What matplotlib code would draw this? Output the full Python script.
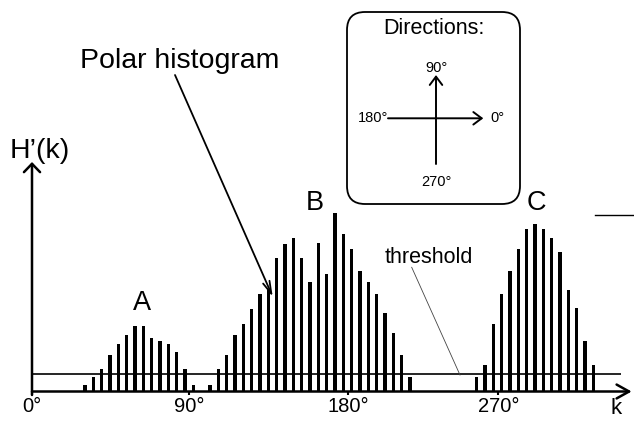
import matplotlib
matplotlib.use('Agg')
import matplotlib.pyplot as plt
from matplotlib.patches import FancyBboxPatch, FancyArrowPatch
from matplotlib.transforms import Affine2D
from matplotlib.lines import Line2D

plt.rcParams['font.family'] = ['Liberation Sans', 'DejaVu Sans']

# ---------------- data ----------------
# sector index k (one bar per sector) and smoothed polar obstacle density H'(k)
sector_k = list(range(62))
h_values = [6.5, 15, 23, 37, 48, 56.5, 65.5, 65.5, 53.5, 51, 48, 40, 23, 6.5, 0,
            6.5, 23, 37, 56.5, 68, 82.5, 98, 103, 134, 148, 154, 134, 110, 149, 118,
            179, 157.5, 142.5, 121, 110, 98, 79, 59, 37, 15,
            0, 0, 0, 0, 0, 0, 0,
            15, 26.5, 68, 98, 121, 142.5, 162.5, 168, 162.5, 154, 140, 101.5, 84, 50.5, 26.5]
threshold = 17.2
tick_k = [-6.36, 12.52, 31.6, 49.6]
tick_labels = ['0°', '90°', '180°', '270°']
peak_labels = ['A', 'B', 'C']

W, H, DPI = 634, 423, 100
fig = plt.figure(figsize=(W / DPI, H / DPI), dpi=DPI)
ax = fig.add_axes([0, 0, 1, 1])
ax.set_xlim(-10.2, 65.88)
ax.set_ylim(-31.5, 391.5)

# pixel transform (origin top-left) for annotations
T = Affine2D().scale(1 / DPI, -1 / DPI).translate(0, H / DPI) + fig.dpi_scale_trans

# bars
ax.bar(sector_k, h_values, width=0.37, color='black', bottom=0, zorder=3)

# threshold line
ax.hlines(threshold, tick_k[0], 64.3, color='black', lw=1.2, zorder=2)

# axes with arrows
k_end = 65.6
ax.annotate('', xy=(k_end, 0), xytext=(tick_k[0], 0),
            arrowprops=dict(arrowstyle='->,head_length=0.9,head_width=0.5', lw=1.8,
                            color='black', shrinkA=0, shrinkB=0, mutation_scale=10), zorder=4)
ax.annotate('', xy=(tick_k[0], 229.5), xytext=(tick_k[0], -3.5),
            arrowprops=dict(arrowstyle='->,head_length=0.6,head_width=0.58', lw=1.8,
                            color='black', shrinkA=0, shrinkB=0, mutation_scale=10), zorder=4)

# ticks
for s in ['top', 'right', 'left']:
    ax.spines[s].set_visible(False)
ax.spines['bottom'].set_position(('data', 0))
ax.spines['bottom'].set_visible(False)
ax.set_yticks([])
ax.set_xticks(tick_k, tick_labels)
ax.tick_params(axis='x', direction='out', length=2.5, width=1.5, labelsize=14.5, pad=1.5)

# peak labels
peak_pos = [(142, 303), (314.5, 203), (536.5, 202.5)]
for lab, (px, py) in zip(peak_labels, peak_pos):
    fig.text(px, py, lab, transform=T, ha='center', va='center', fontsize=19.5)

# axis labels
fig.text(10, 151, 'H’(k)', transform=T, ha='left', va='center', fontsize=20.5)
fig.text(616, 408, 'k', transform=T, ha='center', va='center', fontsize=16)

# Polar histogram annotation
fig.text(80, 68.3, 'Polar histogram', transform=T, ha='left', va='baseline', fontsize=20.5)
fig.add_artist(FancyArrowPatch((175, 75), (272.7, 296.7), transform=T,
                               arrowstyle='->,head_length=0.9,head_width=0.25',
                               mutation_scale=10, lw=1.3, color='black', shrinkA=0, shrinkB=0))

# threshold annotation
fig.text(385, 263.3, 'threshold', transform=T, ha='left', va='baseline', fontsize=15.5)
fig.add_artist(Line2D([411.7, 460], [267.3, 375], transform=T, lw=0.6, color='#444444'))

# short line top right
fig.add_artist(Line2D([595, 634], [215, 215], transform=T, lw=1.0, color='black'))

# Directions box
box = FancyBboxPatch((347, 12), 173, 192, boxstyle='round,pad=0,rounding_size=18',
                     transform=T, fill=False, lw=1.3, edgecolor='black')
fig.add_artist(box)
fig.text(433.5, 28, 'Directions:', transform=T, ha='center', va='center', fontsize=15.5)
fig.add_artist(FancyArrowPatch((436, 164), (436, 75), transform=T,
                               arrowstyle='->,head_length=0.6,head_width=0.45',
                               mutation_scale=10, lw=1.4, color='black', shrinkA=0, shrinkB=0))
fig.add_artist(FancyArrowPatch((388, 118.3), (483.3, 118.3), transform=T,
                               arrowstyle='->,head_length=0.6,head_width=0.45',
                               mutation_scale=10, lw=1.4, color='black', shrinkA=0, shrinkB=0))
fig.text(436.7, 67.5, '90°', transform=T, ha='center', va='center', fontsize=10.5)
fig.text(388, 118, '180°', transform=T, ha='right', va='center', fontsize=10.5)
fig.text(490, 118, '0°', transform=T, ha='left', va='center', fontsize=10.5)
fig.text(436, 182, '270°', transform=T, ha='center', va='center', fontsize=10.5)

fig.savefig('out.png', dpi=DPI)
